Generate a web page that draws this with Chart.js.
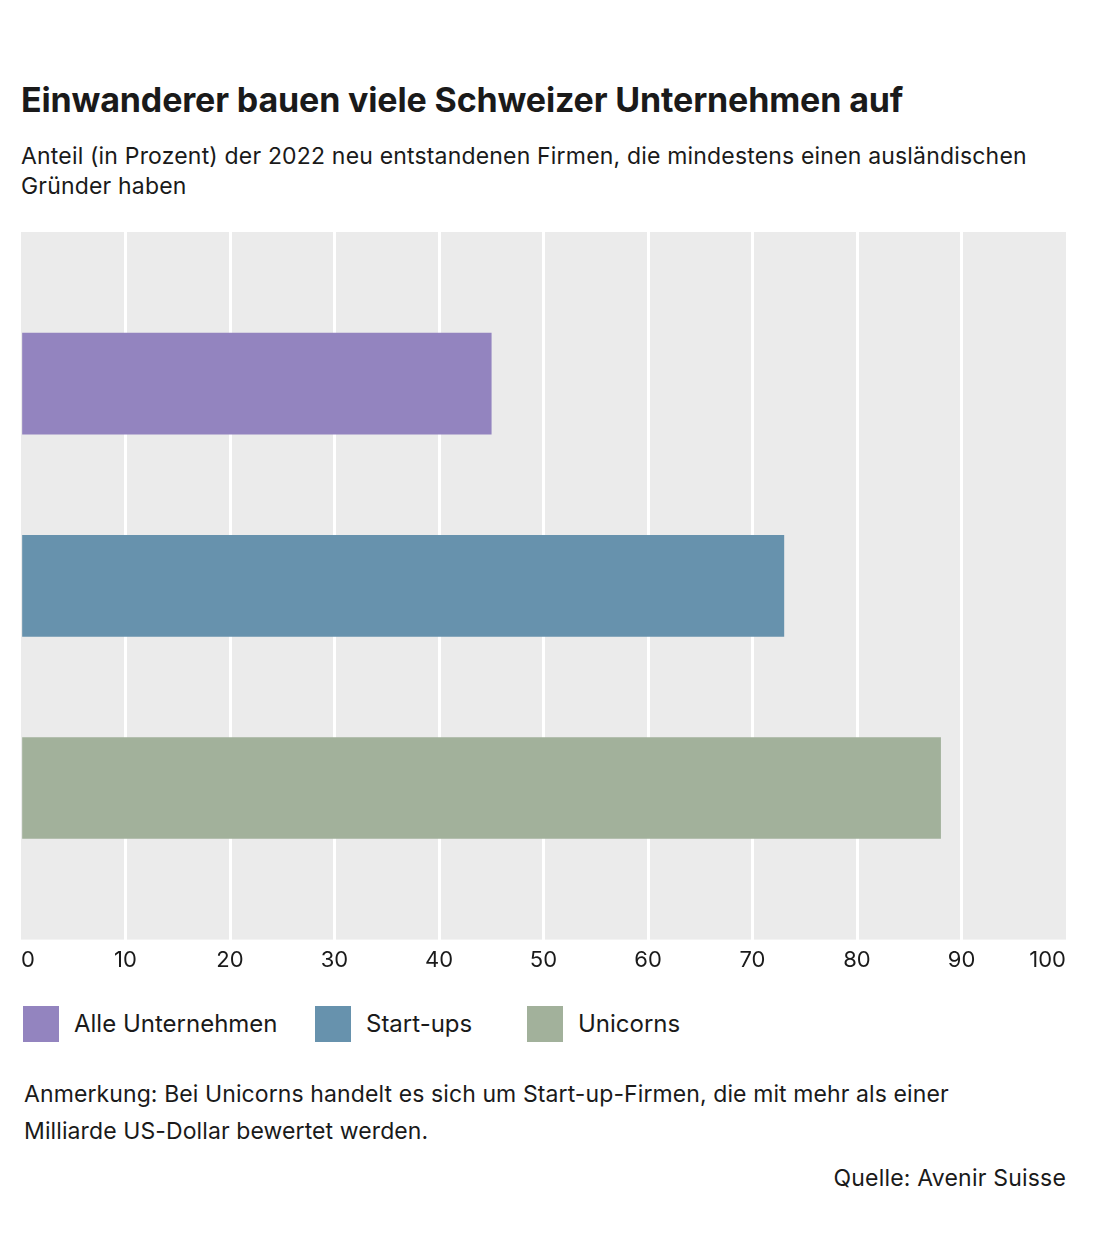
<!DOCTYPE html>
<html>
<head>
<meta charset="utf-8">
<script src="https://cdn.jsdelivr.net/npm/chart.js@4/dist/chart.umd.min.js"></script>
<style>
  html, body { margin: 0; padding: 0; background: #fff; }
  body { width: 1102px; height: 1239px; position: relative; font-family: Inter, "Noto Sans", sans-serif; color: #1a1a1a; }
  #title { position: absolute; left: 21px; top: 79px; font-size: 34px; font-weight: 700; letter-spacing: -0.15px; white-space: nowrap; }
  #subtitle { position: absolute; left: 21px; top: 141px; width: 1050px; font-size: 23px; line-height: 30px; letter-spacing: 0.18px; }
  #chartwrap { position: absolute; left: 13px; top: 232px; width: 1061px; height: 750px; }
  #legend { position: absolute; left: 23px; top: 1006px; height: 36px; }
  .item { position: absolute; top: 0; height: 36px; white-space: nowrap; }
  .box { position: absolute; left: 0; top: 0; width: 36px; height: 36px; }
  .lab { position: absolute; left: 51px; top: 0; line-height: 36px; font-size: 24px; letter-spacing: 0px; }
  #note { position: absolute; left: 24px; top: 1076px; width: 1060px; font-size: 23px; line-height: 37px; letter-spacing: 0.1px; }
  #source { position: absolute; right: 36px; top: 1164px; font-size: 23px; letter-spacing: 0.2px; white-space: nowrap; }
</style>
</head>
<body>
<div id="title">Einwanderer bauen viele Schweizer Unternehmen auf</div>
<div id="subtitle">Anteil (in Prozent) der 2022 neu entstandenen Firmen, die mindestens einen ausländischen Gründer haben</div>
<div id="chartwrap"><canvas id="c"></canvas></div>
<div id="legend"></div>
<div id="note">Anmerkung: Bei Unicorns handelt es sich um Start-up-Firmen, die mit mehr als einer<br>Milliarde US-Dollar bewertet werden.</div>
<div id="source">Quelle: Avenir Suisse</div>
<script>
const categories = ["Alle Unternehmen", "Start-ups", "Unicorns"];
const values = [45, 73, 88];
const colors = ["#9384bf", "#6792ad", "#a2b19b"];
const xTicks = [0, 10, 20, 30, 40, 50, 60, 70, 80, 90, 100];
const legendOffsets = [0, 292, 504];

const bgPlugin = {
  id: 'plotBg',
  beforeDraw(chart) {
    const { ctx, chartArea: a } = chart;
    ctx.save();
    ctx.fillStyle = '#ebebeb';
    ctx.fillRect(a.left, a.top, a.right - a.left, a.bottom - a.top);
    ctx.restore();
  }
};

const datasets = categories.map((name, i) => ({
  label: name,
  data: [{ x: values[i], y: i }],
  backgroundColor: colors[i],
  borderWidth: 0,
  barThickness: 101,
  grouped: false
}));

new Chart(document.getElementById('c'), {
  type: 'bar',
  data: { datasets },
  options: {
    indexAxis: 'y',
    responsive: true,
    maintainAspectRatio: false,
    animation: false,
    layout: { padding: 0 },
    plugins: { legend: { display: false }, tooltip: { enabled: false } },
    scales: {
      x: {
        type: 'linear',
        min: 0, max: 100,
        afterBuildTicks(scale) { scale.ticks = xTicks.map(v => ({ value: v })); },
        border: { display: false },
        grid: {
          drawTicks: false,
          lineWidth: 3,
          color: ctx => (ctx.tick && (ctx.tick.value === 0 || ctx.tick.value === 100)) ? 'rgba(0,0,0,0)' : '#ffffff'
        },
        ticks: {
          align: 'inner',
          padding: 8,
          color: '#1a1a1a',
          font: { family: 'Inter', size: 22 },
          maxRotation: 0,
          autoSkip: false
        }
      },
      y: {
        type: 'linear',
        min: -0.75, max: 2.75,
        reverse: true,
        offset: false,
        grid: { offset: false },
        display: false
      }
    }
  },
  plugins: [bgPlugin]
});

const legend = document.getElementById('legend');
categories.forEach((name, i) => {
  const it = document.createElement('div');
  it.className = 'item';
  it.style.left = legendOffsets[i] + 'px';
  it.innerHTML = '<div class="box" style="background:' + colors[i] + '"></div><div class="lab">' + name + '</div>';
  legend.appendChild(it);
});
</script>
</body>
</html>
